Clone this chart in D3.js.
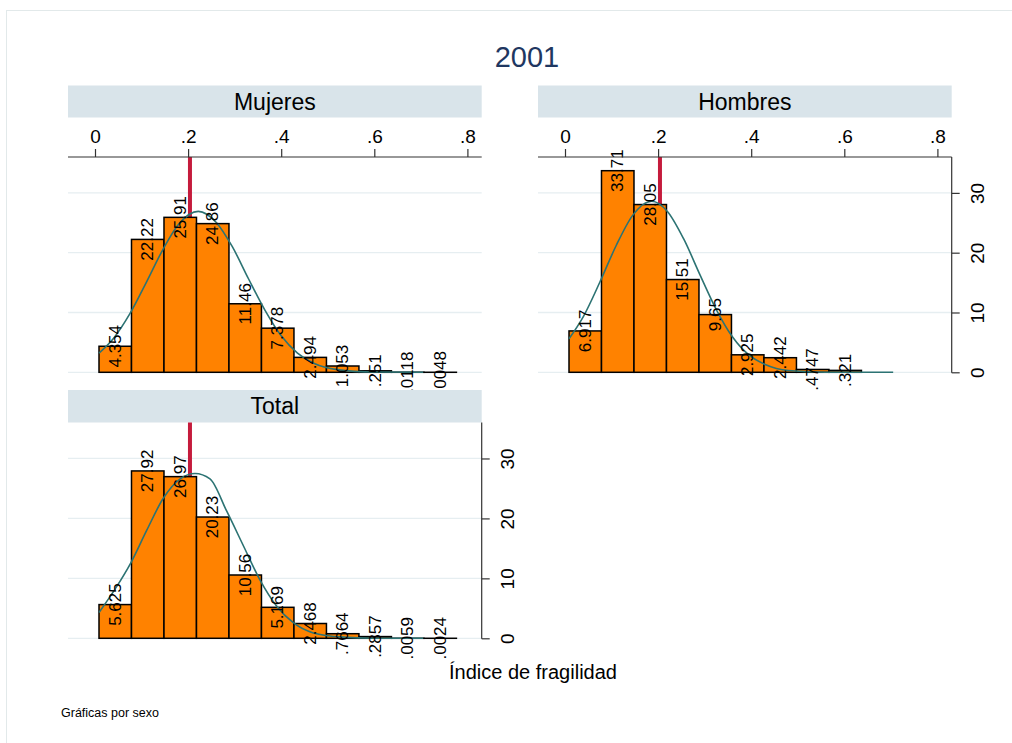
<!DOCTYPE html>
<html><head><meta charset="utf-8">
<script src="https://cdn.jsdelivr.net/npm/d3@7"></script>
<style>
html,body{margin:0;padding:0;background:#fff;}
svg{display:block;font-family:"Liberation Sans",Arial,Helvetica,sans-serif;}
</style></head>
<body><svg id="c" width="1012" height="743"></svg>
<script>
// ---------------- data ----------------
const title = "2001";
const panelNames = ["Mujeres", "Hombres", "Total"];
const binEdges = [0.0086, 0.0784, 0.1482, 0.2180, 0.2878, 0.3576, 0.4274, 0.4972, 0.5670, 0.6368, 0.7066, 0.7764];
const mujeres = [4.354, 22.22, 25.91, 24.86, 11.46, 7.378, 2.494, 1.053, 0.251, 0.0118, 0.0048];
const hombres = [6.917, 33.71, 28.05, 15.51, 9.65, 2.925, 2.442, 0.4747, 0.321];
const total   = [5.625, 27.92, 26.97, 20.23, 10.56, 5.169, 2.468, 0.7664, 0.2857, 0.0059, 0.0024];
const xTicks = [0, 0.2, 0.4, 0.6, 0.8];
const xTickLabels = ["0", ".2", ".4", ".6", ".8"];
const yTicks = [0, 10, 20, 30];
const refLine = 0.204;
// normal-density overlay: [x, percent]
const curveMujeres = [[0.0086,3.2],[0.04,5.7],[0.075,9.8],[0.11,15.0],[0.145,20.4],[0.18,24.8],[0.222,26.9],[0.26,25.1],[0.295,21.0],[0.33,15.6],[0.365,10.4],[0.40,6.1],[0.435,3.2],[0.47,1.5],[0.52,0.45],[0.60,0.05],[0.705,0]];
const curveHombres = [[0.0086,5.6],[0.04,9.4],[0.075,15.1],[0.11,21.2],[0.145,26.2],[0.186,28.6],[0.22,26.9],[0.255,22.3],[0.29,16.3],[0.325,10.5],[0.36,5.9],[0.395,2.9],[0.43,1.3],[0.48,0.3],[0.56,0.02],[0.705,0]];
const curveTotal   = [[0.0086,4.3],[0.043,8.2],[0.077,12.6],[0.111,18.0],[0.147,23.4],[0.183,26.6],[0.215,27.5],[0.247,26.6],[0.283,21.2],[0.319,15.4],[0.354,9.8],[0.390,5.4],[0.426,2.6],[0.469,0.9],[0.533,0.2],[0.60,0.02],[0.705,0]];
const xTitle = "Índice de fragilidad";
const note = "Gráficas por sexo";

// ---------------- layout ----------------
const svg = d3.select("#c");
const FONT = '"Liberation Sans",Arial,Helvetica,sans-serif';
svg.append("rect").attr("x",6.5).attr("y",10.5).attr("width",1010).attr("height",740)
   .attr("fill","none").attr("stroke","#e2e9ea").attr("stroke-width",1);

svg.append("text").attr("x",527).attr("y",66.5).attr("text-anchor","middle")
   .attr("font-size",29).attr("fill","#1f3761").text(title);

const panels = [
  {name: panelNames[0], vals: mujeres, curve: curveMujeres, x0: 68, x1: 481.7, base: 372.3, top: 157, stripTop: 85.5, stripBot: 117.5, topAxis: true, rightAxis: false},
  {name: panelNames[1], vals: hombres, curve: curveHombres, x0: 538, x1: 951.7, base: 372.3, top: 157, stripTop: 85.5, stripBot: 117.5, topAxis: true, rightAxis: true},
  {name: panelNames[2], vals: total,   curve: curveTotal,   x0: 68, x1: 481.7, base: 638.3, top: 422.5, stripTop: 390, stripBot: 422.5, topAxis: false, rightAxis: true}
];

panels.forEach(p => {
  const g = svg.append("g");
  const x = d3.scaleLinear().domain([0, 0.8]).range([p.x0 + 27, p.x0 + 27 + 0.8*465.5]);
  const y = d3.scaleLinear().domain([0, 36]).range([p.base, p.top]);

  // strip
  g.append("rect").attr("x",p.x0).attr("y",p.stripTop).attr("width",p.x1-p.x0).attr("height",p.stripBot-p.stripTop)
   .attr("fill","#d9e4ea");
  g.append("text").attr("x",(p.x0+p.x1)/2).attr("y",p.stripTop+24).attr("text-anchor","middle")
   .attr("font-size",23).attr("fill","#000").text(p.name);

  // gridlines
  g.selectAll(".grid").data(yTicks).join("line")
   .attr("x1",p.x0).attr("x2",p.x1).attr("y1",d=>y(d)).attr("y2",d=>y(d))
   .attr("stroke","#e6eef1").attr("stroke-width",1.3);

  // reference line
  g.append("line").attr("x1",x(refLine)).attr("x2",x(refLine)).attr("y1",p.top).attr("y2",p.base)
   .attr("stroke","#c51b3c").attr("stroke-width",4);

  // bars
  const bars = p.vals.map((v,i) => ({v, a: binEdges[i], b: binEdges[i+1]}));
  g.selectAll(".bar").data(bars).join("rect")
   .attr("x",d=>x(d.a)).attr("width",d=>x(d.b)-x(d.a))
   .attr("y",d=>y(d.v)).attr("height",d=>y(0)-y(d.v))
   .attr("fill","#ff8200").attr("stroke","#000").attr("stroke-width",1.5);

  // curve
  const line = d3.line().x(d=>x(d[0])).y(d=>y(d[1])).curve(d3.curveMonotoneX);
  g.append("path").attr("d",line(p.curve)).attr("fill","none").attr("stroke","#2c7373").attr("stroke-width",1.6);

  // bar labels
  g.selectAll(".lbl").data(bars).join("text")
   .attr("transform",d=>`translate(${(x(d.a)+x(d.b))/2},${y(d.v)}) rotate(-90)`)
   .attr("text-anchor","middle").attr("dominant-baseline","central")
   .attr("font-size",17).attr("fill","#000")
   .text(d=>String(d.v).replace(/^0\./,"."));

  // top axis
  if (p.topAxis) {
    const ax = g.append("g").attr("transform",`translate(0,${p.top})`)
      .call(d3.axisTop(x).tickValues(xTicks).tickFormat((d,i)=>xTickLabels[i]).tickSize(8).tickPadding(6).tickSizeOuter(0));
    ax.select(".domain").remove();
    ax.selectAll(".tick line").attr("stroke","#333").attr("stroke-width",1.2);
    ax.selectAll("text").attr("font-size",19).attr("font-family",FONT).attr("fill","#000");
    g.append("line").attr("x1",p.x0).attr("x2",p.x1).attr("y1",p.top).attr("y2",p.top)
     .attr("stroke","#333").attr("stroke-width",1.2);
  }
  // right axis
  if (p.rightAxis) {
    const ay = g.append("g").attr("transform",`translate(${p.x1},0)`)
      .call(d3.axisRight(y).tickValues(yTicks).tickSize(8).tickPadding(4).tickSizeOuter(0));
    ay.select(".domain").remove();
    ay.selectAll(".tick line").attr("stroke","#333").attr("stroke-width",1.2);
    ay.selectAll("text").attr("font-size",19).attr("font-family",FONT).attr("fill","#000")
      .attr("x",null).attr("dy",null)
      .attr("transform","translate(26,0) rotate(-90)").attr("text-anchor","middle").attr("dominant-baseline","central");
    g.append("line").attr("x1",p.x1).attr("x2",p.x1).attr("y1",p.top).attr("y2",p.base+0.5)
     .attr("stroke","#333").attr("stroke-width",1.2);
  }
});

svg.append("text").attr("x",533).attr("y",678.5).attr("text-anchor","middle")
   .attr("font-size",20).attr("fill","#000").text(xTitle);
svg.append("text").attr("x",61).attr("y",717).attr("font-size",12.5).attr("fill","#000").text(note);
</script></body></html>
